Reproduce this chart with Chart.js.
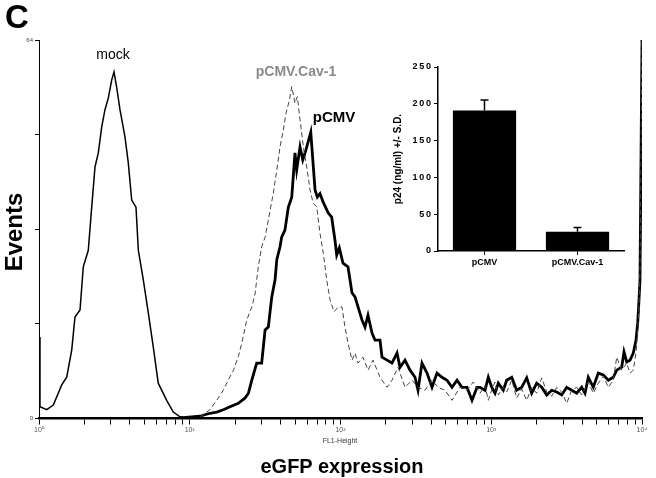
<!DOCTYPE html>
<html>
<head>
<meta charset="utf-8">
<script src="https://cdn.jsdelivr.net/npm/chart.js@4.4.0/dist/chart.umd.min.js"></script>
<style>
body { margin:0; background:#fff; }
#wrap { position:relative; width:656px; height:478px; font-family:"Liberation Sans", Arial, sans-serif; overflow:hidden; }
#main { position:absolute; left:0; top:0; }
#inset { position:absolute; left:390px; top:50px; }
.lbl { position:absolute; white-space:nowrap; line-height:1; transform:translate(-50%,-50%); }
</style>
</head>
<body>
<div id="wrap">
<canvas id="main" width="656" height="478"></canvas>
<canvas id="inset" width="250" height="230"></canvas>
<div class="lbl" style="left:17px;top:16px;font-size:33px;font-weight:bold;">C</div>
<div class="lbl" style="left:14px;top:232px;font-size:24px;font-weight:bold;transform:translate(-50%,-50%) rotate(-90deg);">Events</div>
<div class="lbl" style="left:342px;top:466px;font-size:20px;font-weight:bold;">eGFP expression</div>
<div class="lbl" style="left:340px;top:440px;font-size:7px;color:#333;">FL1-Height</div>
<div class="lbl" style="left:113px;top:54px;font-size:14px;">mock</div>
<div class="lbl" style="left:296px;top:71px;font-size:14px;font-weight:bold;color:#8a8a8a;">pCMV.Cav-1</div>
<div class="lbl" style="left:334px;top:116px;font-size:15px;font-weight:bold;">pCMV</div>
</div>
<script>
// histogram data, FL1-Height channel value vs events
var mockX = [1.00, 1.015, 1.125, 1.244, 1.415, 1.527, 1.648, 1.733, 1.871, 1.967,
             2.123, 2.237, 2.352, 2.474, 2.606, 2.740, 2.884, 3.035, 3.145, 3.275,
             3.445, 3.718, 3.911, 4.12, 4.40, 4.56, 4.92, 5.31, 5.73, 6.18,
             7.03, 7.78, 8.61, 9.5];
var mockY = [13.7, 1.9, 1.4, 2.2, 5.6, 6.9, 11.5, 17.1, 18.3, 25.6,
             28.4, 35.7, 42.5, 44.9, 49.3, 52.2, 54.2, 57.2, 58.6, 56.0,
             52.2, 47.6, 43.2, 36.9, 35.7, 28.4, 23.4, 17.8, 12.0, 5.9,
             3.0, 1.0, 0.2, 0];

var cavX = [11.7, 13.6, 15.1, 16.7, 18.0, 19.5, 21.0, 22.1, 23.9, 25.8,
            27.1, 28.5, 30.0, 31.6, 33.2, 35.8, 37.8, 39.7, 41.7, 43.5,
            45.8, 47.5, 49.9, 51.7, 53.9, 56.7, 59.7, 62.8, 66.0, 69.5,
            73.1, 76.9, 81.0, 85.2, 90.6, 96.7, 102.3, 107.1, 112.1, 119.2,
            124.8, 130.7, 141.0, 152.2, 164.3, 182.8, 203.5, 219.6, 240.7, 267.9,
            298.1, 326.7, 363.5, 404.6, 443.5, 493.4, 549.2, 620.5, 690.5, 760.3,
            842.3, 909, 956, 1007, 1059, 1114, 1202, 1266, 1367, 1475,
            1592, 1719, 1855, 2002, 2161, 2333, 2518, 2718, 2934, 3167,
            3418, 3689, 3981, 4404, 4753, 5130, 5538, 5977, 6451, 6796,
            7335, 7915, 8326, 8756, 9125, 9365, 9552, 9699, 10000];
var cavY = [0.2, 1.4, 3.0, 4.7, 6.4, 8.1, 10.4, 12.6, 16.6, 18.8,
            21.0, 25.6, 29.0, 30.6, 33.5, 38.0, 42.0, 45.9, 48.7, 51.6,
            53.8, 56.1, 53.3, 54.4, 50.5, 45.9, 42.5, 38.6, 36.3, 35.8,
            31.3, 27.9, 23.4, 20.0, 18.0, 18.8, 18.8, 15.4, 12.7, 9.8,
            11.0, 9.3, 10.3, 8.1, 9.8, 6.9, 5.2, 6.4, 8.6, 5.2,
            6.4, 5.2, 4.7, 6.4, 5.2, 4.7, 3.0, 5.2, 4.7, 6.1,
            4.2, 5.5, 3.0, 4.7, 6.1, 3.9, 5.2, 4.4, 6.4, 3.4,
            4.9, 3.0, 5.2, 4.2, 6.8, 4.4, 3.7, 5.2, 4.4, 2.5,
            4.7, 5.2, 3.9, 6.1, 4.2, 5.9, 7.1, 5.2, 6.4, 10.3,
            8.1, 9.3, 7.6, 8.1, 11.0, 14.9, 19.0, 25.0, 64];

var cmvX = [8.6, 11.7, 13.6, 15.1, 16.7, 18.5, 21.0, 23.3, 24.5, 25.8,
            27.8, 30.0, 31.6, 33.2, 35.0, 36.8, 37.8, 39.7, 40.7, 42.8,
            45.1, 47.5, 49.9, 51.2, 53.9, 56.2, 59.0, 63.5, 67.8, 70.2,
            73.1, 76.9, 83.0, 87.4, 91.9, 94.4, 98.2, 103.9, 112.1, 119.2,
            124.8, 130.7, 138.9, 145.4, 152.2, 161.8, 169.4, 182.8, 188.5, 203.5,
            219.6, 237.1, 248.2, 267.9, 289.1, 312.1, 326.7, 347.2, 374.8, 404.6,
            436.7, 471.3, 508.8, 549.2, 592.8, 639.8, 690.5, 745.3, 804.5, 842.3,
            909, 956, 1007, 1059, 1114, 1202, 1266, 1367, 1475, 1592,
            1719, 1855, 2002, 2161, 2333, 2518, 2718, 2934, 3167, 3418,
            3689, 3981, 4188, 4404, 4753, 5130, 5538, 5977, 6451, 6796,
            7335, 7596, 7915, 8326, 8756, 9125, 9365, 9552, 9699, 10000];
var cmvY = [0, 0.3, 0.8, 1.0, 1.4, 1.9, 2.5, 3.4, 4.2, 6.4,
            9.3, 9.3, 14.9, 15.4, 20.5, 23.4, 26.8, 29.0, 30.6, 31.8,
            35.7, 37.4, 44.9, 42.0, 45.9, 43.7, 45.4, 48.4, 38.6, 37.4,
            38.0, 36.5, 34.7, 34.0, 30.1, 27.6, 28.8, 26.2, 25.6, 21.2,
            20.5, 18.8, 16.6, 15.4, 17.4, 14.4, 13.2, 13.2, 10.3, 9.8,
            9.3, 11.0, 8.6, 9.8, 8.1, 6.9, 4.7, 9.3, 7.6, 5.2,
            7.6, 6.9, 6.4, 5.2, 6.4, 5.2, 5.2, 3.0, 5.2, 5.2,
            4.7, 6.9, 5.2, 4.2, 5.9, 4.7, 6.4, 6.9, 4.7, 5.2,
            6.8, 4.2, 5.9, 5.2, 3.9, 4.7, 4.4, 3.9, 5.2, 4.7,
            4.2, 5.2, 4.2, 6.9, 5.2, 7.6, 7.3, 6.4, 6.9, 8.1,
            8.6, 11.2, 9.5, 9.8, 11.0, 13.2, 16.1, 20.0, 23.4, 64];

var yTicks = [0, 16, 32, 48, 64];
var xDecades = [1, 10, 100, 1000, 10000];

// inset bar chart
var barLabels = ['pCMV', 'pCMV.Cav-1'];
var barValues = [191, 26];
var barSD = [14, 6];

function pts(xs, ys) {
    return xs.map(function(x, i){ return {x: x, y: ys[i]}; });
}

// decade ticks plus the 2..9 minor ticks inside each decade
function logTicks() {
    var t = [];
    xDecades.forEach(function(d, i){
        if (i === xDecades.length - 1) { t.push({value: d}); return; }
        for (var m = 1; m <= 9; m++) t.push({value: d * m});
    });
    return t;
}

var sup = {'0':'\u2070','1':'\u00b9','2':'\u00b2','3':'\u00b3','4':'\u2074'};
function decadeLabel(v) {
    var i = xDecades.indexOf(v);
    return i >= 0 ? '10' + sup[String(i)] : '';
}

new Chart(document.getElementById('main'), {
    type: 'line',
    data: {
        datasets: [
            {label: 'mock', data: pts(mockX, mockY), borderColor: '#000', borderWidth: 1.5, pointRadius: 0, tension: 0},
            {label: 'pCMV.Cav-1', data: pts(cavX, cavY), borderColor: '#444', borderWidth: 1, borderDash: [5, 3], pointRadius: 0, tension: 0},
            {label: 'pCMV', data: pts(cmvX, cmvY), borderColor: '#000', borderWidth: 2.8, pointRadius: 0, tension: 0}
        ]
    },
    options: {
        responsive: false,
        animation: false,
        layout: {padding: {left: 0, top: 40, right: 14, bottom: 0}},
        plugins: {legend: {display: false}, tooltip: {enabled: false}},
        scales: {
            x: {
                type: 'logarithmic', min: 1, max: 10000,
                afterFit: function(s){ s.height = 60; },
                afterBuildTicks: function(s){ s.ticks = logTicks(); },
                border: {color: '#000', width: 2.5},
                grid: {drawOnChartArea: false, tickLength: 6.5, color: '#000', lineWidth: 1},
                ticks: {autoSkip: false, maxRotation: 0, color: '#555', font: {size: 7}, padding: 1, callback: decadeLabel}
            },
            y: {
                min: 0, max: 64,
                afterFit: function(s){ s.width = 39; },
                afterBuildTicks: function(s){ s.ticks = yTicks.map(function(v){ return {value: v}; }); },
                border: {color: '#000', width: 1},
                grid: {drawOnChartArea: false, tickLength: 4, color: '#000'},
                ticks: {color: '#444', font: {size: 6}, padding: 2, callback: function(v){ return (v === 0 || v === 64) ? String(v) : ''; }}
            }
        }
    }
});

var errorBars = {
    id: 'errorBars',
    afterDatasetsDraw: function(chart){
        var ctx = chart.ctx, meta = chart.getDatasetMeta(0), ys = chart.scales.y;
        ctx.save();
        ctx.strokeStyle = '#000';
        ctx.lineWidth = 1.5;
        meta.data.forEach(function(bar, i){
            var top = ys.getPixelForValue(barValues[i] + barSD[i]);
            ctx.beginPath();
            ctx.moveTo(bar.x, bar.y);
            ctx.lineTo(bar.x, top);
            ctx.moveTo(bar.x - 4, top);
            ctx.lineTo(bar.x + 4, top);
            ctx.stroke();
        });
        ctx.restore();
    }
};

new Chart(document.getElementById('inset'), {
    type: 'bar',
    data: {
        labels: barLabels,
        datasets: [{data: barValues, backgroundColor: '#000', barPercentage: 0.68, categoryPercentage: 1}]
    },
    options: {
        responsive: false,
        animation: false,
        layout: {padding: {left: 2, top: 17, right: 16, bottom: 0}},
        plugins: {legend: {display: false}, tooltip: {enabled: false}},
        scales: {
            x: {
                afterFit: function(s){ s.height = 29; },
                border: {color: '#000', width: 1.5},
                grid: {drawOnChartArea: false, offset: false, tickLength: 4, color: '#000'},
                ticks: {color: '#000', font: {size: 9, weight: 'bold'}, padding: 2}
            },
            y: {
                min: 0, max: 250,
                afterFit: function(s){ s.width = 46; },
                border: {color: '#000', width: 1.5},
                grid: {drawOnChartArea: false, tickLength: 4, color: '#000'},
                ticks: {stepSize: 50, color: '#000', font: {size: 9, weight: 'bold'}, padding: 3,
                        callback: function(v){ return String(v).split('').join('\u2009'); }},
                title: {display: true, text: 'p24 (ng/ml) +/- S.D.', color: '#000', font: {size: 10, weight: 'bold'}, padding: 0}
            }
        }
    },
    plugins: [errorBars]
});
</script>
</body>
</html>
